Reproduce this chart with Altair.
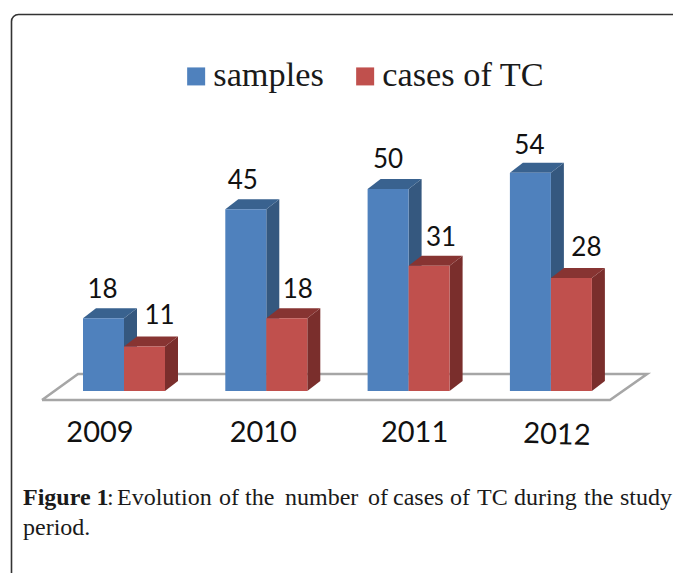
import altair as alt
import pandas as pd

YEARS = ["2009", "2010", "2011", "2012"]
SAMPLES = [18, 45, 50, 54]
CASES = [11, 18, 31, 28]
SERIES = ["samples", "cases of TC"]
FRONT = ["#4f81bd", "#c0504d"]
SIDE = ["#35587f", "#7a2e2c"]
TOP = ["#39628f", "#873432"]

# caption, split into words so that it can be set justified
CAP_LINE1 = ["Evolution", "of", "the", "number", "of", "cases", "of", "TC", "during", "the", "study"]
CAP_X1 = [109, 211, 237, 277, 360, 385, 442, 469, 506, 576, 612]

# layout constants (page pixels -> scale units)
W, H = 665, 565
GROUP_PX, LEFT_PX, BAR_PX = 142.3, 83.0, 41.0
BASE_PX, VAL_PX = 383.0, 4.04
DEPTH_X, DEPTH_Y = 13 / GROUP_PX, 10 / VAL_PX
BW = BAR_PX / GROUP_PX


def ux(p):
    return (p - LEFT_PX) / GROUP_PX


def uy(p):
    return (BASE_PX - (p - 8)) / VAL_PX


xs = alt.Scale(domain=[ux(8), ux(8 + W)], range=[0, W], nice=False, zero=False)
ys = alt.Scale(domain=[uy(8 + H), uy(8)], range=[H, 0], nice=False, zero=False)

LABEL_NUDGE = {0: [-1, -3, 0, -1], 1: [15, 11, 12, 15]}
LABEL_RISE = {0: [28, 28, 29, 27], 1: [31, 28, 28, 30]}
YEAR_NUDGE = [-24, -3, 6, 6]
YEAR_Y = [425, 425, 425, 427]
YEAR_ANGLE = [0, 0, 0, 2]

front, side, top, labels = [], [], [], []
for s, (name, vals) in enumerate(zip(SERIES, [SAMPLES, CASES])):
    for g, v in enumerate(vals):
        L = g + s * BW
        R = L + BW
        front.append(dict(series=name, s=s, L=L, R=R, v=v, base=0))
        side.append(dict(s=s, id=g, x=R, y=v, y2=0))
        side.append(dict(s=s, id=g, x=R + DEPTH_X, y=v + DEPTH_Y, y2=DEPTH_Y))
        top.append(dict(s=s, id=g, x=L, y=v, y2=v))
        top.append(dict(s=s, id=g, x=L + DEPTH_X, y=v + DEPTH_Y, y2=v))
        top.append(dict(s=s, id=g, x=R, y=v + DEPTH_Y, y2=v))
        top.append(dict(s=s, id=g, x=R + DEPTH_X, y=v + DEPTH_Y, y2=v + DEPTH_Y))
        labels.append(dict(
            x=(L + R) / 2 + LABEL_NUDGE[s][g] / GROUP_PX,
            y=v + LABEL_RISE[s][g] / VAL_PX,
            t=str(v),
        ))
front, side, top = pd.DataFrame(front), pd.DataFrame(side), pd.DataFrame(top)

floor = pd.DataFrame([
    dict(o=i, x=ux(a), y=uy(b))
    for i, (a, b) in enumerate([(42, 400), (78, 374), (647, 374), (610, 400), (42, 400)])
])
years = pd.DataFrame(dict(
    t=YEARS,
    x=[g + BW + YEAR_NUDGE[g] / GROUP_PX for g in range(4)],
    py=YEAR_Y,
    a=YEAR_ANGLE,
))

X = lambda f: alt.X(f, type="quantitative", scale=xs, axis=None)
Y = lambda f: alt.Y(f, type="quantitative", scale=ys, axis=None)

card = alt.Chart(pd.DataFrame({"a": [0]})).mark_rect(
    fill="white", stroke="#333333", strokeWidth=1.6, cornerRadius=7
).encode(x=alt.value(3.5), x2=alt.value(800), y=alt.value(6.5), y2=alt.value(800))

floor_l = alt.Chart(floor).mark_line(color="#a6a6a6", strokeWidth=2.6).encode(
    x=X("x"), y=Y("y"), order="o:Q"
)

layers = [card, floor_l]
for s in range(2):
    sd = alt.Chart(side[side.s == s]).mark_area(color=SIDE[s]).encode(
        x=X("x"), y=Y("y"), y2="y2", detail="id:N"
    )
    tp = alt.Chart(top[top.s == s]).mark_area(color=TOP[s]).encode(
        x=X("x"), y=Y("y"), y2="y2", detail="id:N"
    )
    fr = alt.Chart(front[front.s == s]).mark_rect().encode(
        x=X("L"), x2="R", y=Y("v"), y2="base",
        color=alt.Color("series:N", scale=alt.Scale(domain=SERIES, range=FRONT), legend=alt.Legend(
            title=None, orient="none", legendX=171, legendY=51, direction="horizontal",
            symbolType="square", symbolSize=324, symbolStrokeWidth=0, symbolOpacity=1,
            labelFont="Liberation Serif", labelFontSize=34.3, labelColor="#1a1a1a",
            labelOffset=0, columnPadding=24, labelLimit=300, columns=2,
        )),
    )
    layers += [sd, tp, fr]

val_text = alt.Chart(pd.DataFrame(labels)).mark_text(
    font="Lato", fontSize=26, color="#111111", baseline="middle", align="center"
).encode(x=X("x"), y=Y("y"), text="t:N")

year_text = alt.Chart(years).mark_text(
    font="Lato", fontSize=29, color="#111111", baseline="middle", align="center"
).encode(
    x=X("x"),
    y=alt.Y("py:Q", scale=None, axis=None),
    text="t:N",
    angle=alt.Angle("a:Q", scale=None),
)

CAP_FONT = dict(font="Liberation Serif", fontSize=24, color="#1a1a1a", align="left", baseline="alphabetic")


def cap(text, px, py, **kw):
    return alt.Chart(pd.DataFrame({"t": [text]})).mark_text(**CAP_FONT, **kw).encode(
        x=alt.value(px), y=alt.value(py), text="t:N"
    )


caption = [cap("Figure 1", 15, 497, fontWeight="bold"), cap(":", 99, 497)]
caption += [cap(w, x, 497) for w, x in zip(CAP_LINE1, CAP_X1)]
caption.append(cap("period.", 15, 527))

chart = alt.layer(*layers, val_text, year_text, *caption).properties(
    width=W, height=H, padding=0, autosize=alt.AutoSizeParams(type="none"),
).configure_view(stroke=None)

chart.save("out.html", embed_options={"renderer": "svg", "actions": False})
